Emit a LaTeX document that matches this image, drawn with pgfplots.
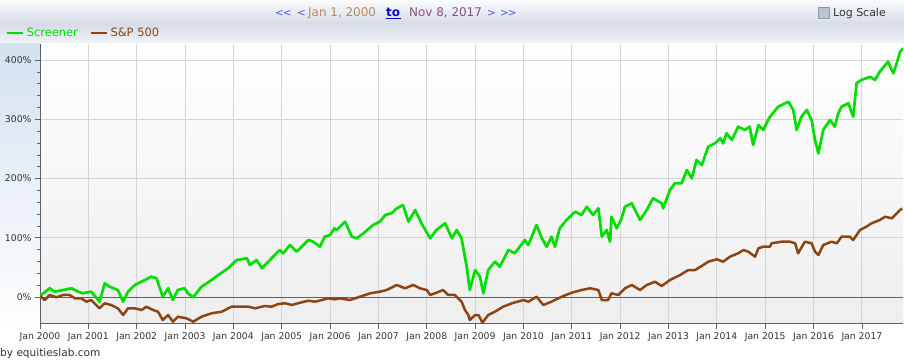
\documentclass[border=0pt]{standalone}
\usepackage{fontspec}
\setmainfont{DejaVu Sans}
\usepackage{pgfplots}
\pgfplotsset{compat=1.18}
\definecolor{scr}{HTML}{00DD00}
\definecolor{spx}{HTML}{8B4513}
\definecolor{gridc}{HTML}{D4D4D4}
\definecolor{axc}{HTML}{606060}
\definecolor{txt}{HTML}{333333}
\definecolor{navb}{HTML}{5050E0}
\definecolor{tanc}{HTML}{B38B5F}
\definecolor{plum}{HTML}{8B4C8B}
\definecolor{linkb}{HTML}{0000CC}
\definecolor{hdtop}{HTML}{FAFBFC}
\definecolor{hdmid}{HTML}{D6DDE6}
\definecolor{hdlow}{HTML}{F1F4F8}
\definecolor{lstrip}{HTML}{D3E1EF}
\definecolor{plotlow}{HTML}{EEEEEE}
\definecolor{boxf}{HTML}{B9C4CF}
\definecolor{boxd}{HTML}{8A98A8}

\pgfplotstableread{
x y
2000.00 1.7
2000.20 14.7
2000.30 8.9
2000.48 11.8
2000.65 14.7
2000.79 9.0
2000.89 6.3
2001.06 9.0
2001.23 -7.9
2001.34 23.1
2001.44 17.4
2001.61 11.8
2001.72 -7.9
2001.82 9.0
2001.96 20.3
2002.10 25.8
2002.30 34.3
2002.41 31.6
2002.54 0.5
2002.65 14.7
2002.75 -5.1
2002.85 11.8
2002.99 14.7
2003.06 6.3
2003.17 -0.5
2003.34 17.4
2003.55 28.7
2003.69 37.2
2003.89 48.5
2004.07 62.5
2004.28 65.4
2004.34 54.1
2004.48 62.5
2004.59 48.5
2004.79 65.4
2004.96 79.4
2005.03 73.8
2005.17 87.8
2005.31 76.5
2005.55 96.3
2005.65 93.4
2005.79 85.0
2005.89 101.9
2006.00 104.7
2006.09 116.0
2006.14 113.2
2006.31 127.2
2006.45 101.9
2006.55 99.2
2006.69 107.6
2006.89 121.6
2007.03 127.2
2007.14 138.5
2007.27 141.4
2007.38 149.8
2007.51 155.4
2007.62 127.2
2007.76 147.0
2007.89 124.5
2008.07 99.2
2008.20 113.2
2008.38 124.5
2008.52 99.2
2008.62 113.2
2008.72 99.2
2008.83 48.5
2008.89 11.8
2009.00 45.6
2009.10 34.3
2009.17 6.3
2009.27 45.6
2009.41 59.6
2009.51 51.2
2009.69 79.4
2009.82 73.8
2010.03 96.3
2010.10 87.8
2010.27 121.6
2010.38 99.2
2010.48 85.0
2010.58 101.9
2010.65 85.0
2010.75 116.0
2010.89 130.1
2011.07 144.1
2011.20 138.5
2011.31 152.5
2011.44 138.5
2011.55 149.8
2011.62 101.9
2011.72 113.2
2011.79 93.4
2011.82 135.6
2011.93 116.0
2012.03 132.9
2012.10 152.5
2012.24 158.3
2012.41 130.1
2012.55 147.0
2012.68 166.7
2012.86 158.3
2012.89 149.8
2013.03 180.7
2013.13 192.1
2013.27 192.1
2013.38 214.5
2013.48 200.5
2013.58 231.4
2013.69 223.0
2013.82 253.9
2013.96 259.6
2014.07 268.1
2014.13 259.6
2014.20 276.5
2014.31 265.2
2014.44 287.7
2014.58 282.1
2014.68 287.7
2014.75 256.8
2014.86 290.5
2014.96 282.1
2015.06 299.0
2015.10 304.6
2015.27 321.5
2015.48 329.9
2015.58 315.9
2015.65 282.1
2015.75 304.6
2015.86 315.9
2015.96 299.0
2016.03 265.2
2016.10 242.7
2016.20 282.1
2016.34 299.0
2016.44 287.7
2016.51 310.3
2016.58 321.5
2016.72 327.2
2016.82 304.6
2016.89 361.0
2016.99 366.6
2017.17 372.1
2017.27 366.6
2017.37 380.6
2017.54 397.5
2017.65 377.9
2017.72 394.8
2017.79 414.4
2017.86 420.1
}\screener

\pgfplotstableread{
x y
2000.00 1.7
2000.10 -5.1
2000.20 3.4
2000.34 -0.5
2000.48 3.4
2000.61 3.4
2000.72 -2.2
2000.85 -2.2
2000.96 -7.9
2001.06 -5.1
2001.16 -13.5
2001.23 -19.1
2001.34 -10.6
2001.47 -13.5
2001.61 -19.1
2001.72 -30.4
2001.82 -19.1
2001.96 -19.1
2002.10 -22.0
2002.20 -16.4
2002.34 -22.0
2002.44 -24.8
2002.54 -38.9
2002.65 -30.4
2002.75 -41.7
2002.85 -33.3
2003.03 -36.0
2003.17 -41.7
2003.34 -33.3
2003.55 -27.5
2003.76 -24.8
2003.96 -16.4
2004.14 -16.4
2004.31 -16.4
2004.45 -19.1
2004.65 -15.2
2004.79 -16.4
2004.93 -11.8
2005.07 -10.6
2005.21 -13.5
2005.38 -9.6
2005.55 -6.3
2005.69 -7.9
2005.83 -5.1
2005.96 -2.2
2006.10 -3.9
2006.20 -2.2
2006.41 -5.1
2006.62 0.5
2006.83 6.3
2007.03 9.0
2007.17 11.8
2007.38 20.3
2007.55 14.7
2007.72 20.3
2007.86 14.7
2008.00 11.8
2008.07 3.4
2008.17 6.3
2008.34 11.8
2008.44 3.4
2008.58 3.4
2008.72 -7.9
2008.79 -22.0
2008.86 -30.4
2008.89 -38.9
2009.00 -30.4
2009.07 -30.4
2009.15 -43.4
2009.27 -30.4
2009.41 -24.8
2009.58 -16.4
2009.76 -10.6
2010.00 -5.1
2010.10 -7.9
2010.27 0.5
2010.41 -13.5
2010.58 -7.9
2010.79 0.5
2011.00 7.3
2011.20 11.8
2011.38 14.7
2011.55 11.8
2011.62 -5.1
2011.75 -5.1
2011.82 6.3
2011.96 3.4
2012.10 14.7
2012.24 20.3
2012.41 11.8
2012.55 20.3
2012.72 25.8
2012.86 18.6
2013.03 28.7
2013.24 37.2
2013.41 45.6
2013.55 45.6
2013.72 54.1
2013.82 59.6
2014.00 63.7
2014.13 59.6
2014.27 68.1
2014.44 73.8
2014.55 79.4
2014.65 76.5
2014.79 68.1
2014.86 82.3
2014.96 85.0
2015.10 85.0
2015.13 90.7
2015.34 93.4
2015.51 93.4
2015.62 90.7
2015.68 73.8
2015.82 93.4
2015.96 90.7
2016.03 76.5
2016.10 70.9
2016.20 87.8
2016.37 93.4
2016.48 90.7
2016.58 101.9
2016.75 101.9
2016.82 96.3
2016.96 113.2
2017.09 118.7
2017.20 124.5
2017.37 130.1
2017.48 135.6
2017.62 132.9
2017.72 141.4
2017.83 149.8
}\spx

\begin{document}
\begin{tikzpicture}
\useasboundingbox (0bp,0bp) rectangle (904bp,361bp);
\fill[white] (0bp,0bp) rectangle (904bp,361bp);
\shade[top color=hdtop, bottom color=hdmid] (0bp,337bp) rectangle (904bp,361bp);
\shade[top color=hdmid, bottom color=hdlow] (0bp,317bp) rectangle (904bp,337bp);
\shade[top color=lstrip, bottom color=white] (0bp,30bp) rectangle (40bp,317bp);
\shade[top color=white, bottom color=plotlow] (40bp,37bp) rectangle (903bp,317bp);

\begin{axis}[
  at={(40bp,37bp)}, anchor=south west,
  scale only axis, width=863bp, height=280bp,
  xmin=2000, xmax=2017.85, ymin=-45.6, ymax=427.4,
  axis x line*=bottom, axis y line*=left,
  axis line style={axc, line width=1bp},
  xtick={2000,2001,...,2017},
  xticklabels={Jan 2000,Jan 2001,Jan 2002,Jan 2003,Jan 2004,Jan 2005,Jan 2006,Jan 2007,Jan 2008,Jan 2009,Jan 2010,Jan 2011,Jan 2012,Jan 2013,Jan 2014,Jan 2015,Jan 2016,Jan 2017},
  ytick={0,100,200,300,400},
  yticklabels={0\%,100\%,200\%,300\%,400\%},
  minor y tick num=4,
  grid=major,
  major grid style={draw=gridc, line width=1bp},
  tick align=outside,
  major tick length=5bp, minor tick length=3bp,
  tick style={axc, line width=0.8bp},
  xticklabel style={font=\fontsize{9.3}{11}\selectfont, text=txt},
  yticklabel style={font=\fontsize{9.3}{11}\selectfont, text=txt},
  legend columns=2,
  legend style={at={(-0.0394,1.039)}, anchor=west, draw=none, fill=none,
    inner sep=0pt, font=\fontsize{11.5}{13}\selectfont,
    /tikz/every even column/.append style={column sep=10bp}},
  legend image code/.code={\draw[#1, line width=2.6bp] (0bp,0bp) -- (16bp,0bp);},
]
\addplot[axc, line width=1bp, forget plot] coordinates {(2000,0) (2017.85,0)};
\addplot[scr, line width=2.7bp, line join=round] table[x=x,y=y] {\screener};
\addlegendentry{\textcolor{scr}{Screener}}
\addplot[spx, line width=2.5bp, line join=round] table[x=x,y=y] {\spx};
\addlegendentry{\textcolor{spx}{S\&P 500}}
\end{axis}

\node[anchor=base west, inner sep=0pt, text=navb, font=\fontsize{10.5}{13}\selectfont] at (275bp,344bp) {{<}\kern-1bp{<}};
\node[anchor=base west, inner sep=0pt, text=navb, font=\fontsize{10.5}{13}\selectfont] at (297bp,344bp) {{<}};
\node[anchor=base west, inner sep=0pt, text=tanc, font=\fontsize{12}{14}\selectfont] at (308bp,344bp) {Jan 1, 2000};
\node[anchor=base west, inner sep=0pt, text=linkb, font=\bfseries\fontsize{12}{14}\selectfont] (to) at (386bp,344bp) {to};
\draw[linkb, line width=1bp] (to.south west) ++(0,-1.5bp) -- ++(15bp,0);
\node[anchor=base west, inner sep=0pt, text=plum, font=\fontsize{12}{14}\selectfont] at (409bp,344bp) {Nov 8, 2017};
\node[anchor=base west, inner sep=0pt, text=navb, font=\fontsize{10.5}{13}\selectfont] at (487bp,344bp) {{>}};
\node[anchor=base west, inner sep=0pt, text=navb, font=\fontsize{10.5}{13}\selectfont] at (500bp,344bp) {{>}\kern-1bp{>}};
\filldraw[fill=boxf, draw=boxd, line width=0.8bp] (818bp,343bp) rectangle (829bp,354bp);
\node[anchor=base west, inner sep=0pt, text=txt, font=\fontsize{11}{13}\selectfont] at (833bp,344bp) {Log Scale};
\node[anchor=base west, inner sep=0pt, text=txt, font=\fontsize{10.6}{12}\selectfont] at (0bp,5bp) {by equitieslab.com};
\end{tikzpicture}
\end{document}
